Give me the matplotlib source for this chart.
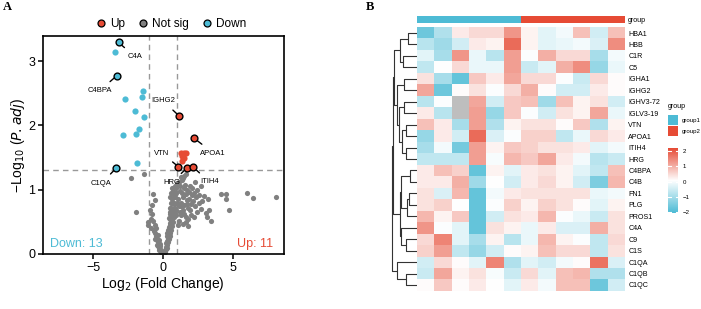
import numpy as np
import matplotlib
matplotlib.use("Agg")
import matplotlib.pyplot as plt
from matplotlib.colors import LinearSegmentedColormap
from matplotlib.lines import Line2D

plt.rcParams['font.family'] = ['Liberation Sans', 'DejaVu Sans']

# ---------------- volcano data ----------------
down_x = [-3.19, -3.45, -3.33, -1.47, -1.54, -2.76, -2.02, -1.40, -1.76, -2.88, -1.95, -1.86, -3.38]
down_y = [3.29, 3.14, 2.77, 2.54, 2.44, 2.41, 2.23, 2.13, 1.95, 1.85, 1.86, 1.41, 1.33]
up_x = [1.12, 2.21, 1.07, 1.71, 2.10, 1.25, 1.45, 1.65, 1.50, 1.35, 1.31]
up_y = [2.15, 1.80, 1.36, 1.34, 1.36, 1.57, 1.57, 1.57, 1.50, 1.52, 1.44]
ns_x = [
    -2.30, -1.34, -1.95, -0.71, -0.83, -0.62, -0.95, -1.10, -1.12, -0.90, -0.78, -0.70,
    -0.60, -0.85, -0.65, -0.55, -0.50, -0.58, -0.45, -0.40, -0.42, -0.35, -0.30, -0.28,
    -0.22, -0.18, -0.15, -0.10, -0.06, -0.50, -0.38, -0.30, -0.25, -0.20,
    0.02, 0.06, 0.10, 0.12, 0.16, 0.20, 0.18, 0.24, 0.28, 0.22, 0.30, 0.35, 0.33, 0.40,
    0.38, 0.45, 0.42, 0.50, 0.48, 0.55, 0.52, 0.58, 0.45, 0.40, 0.35, 0.62, 0.65, 0.60,
    0.55, 0.50, 0.68, 0.72, 0.75, 0.70, 0.62, 0.58, 0.52, 0.46, 0.78, 0.82, 0.80, 0.74,
    0.66, 0.60, 0.55, 0.85, 0.90, 0.78, 0.70, 0.64, 0.88, 0.92, 0.95, 0.45, 0.50, 0.42,
    0.30, 0.25, 0.92, 0.84, 0.95, 0.55,
    1.03, 1.12, 1.17, 1.22, 1.28, 1.31, 1.38, 1.41, 1.47, 1.52, 1.58, 1.61, 1.67, 1.72,
    1.74, 1.83, 1.86, 1.93, 1.97, 2.02, 2.08, 2.12, 2.18, 2.24, 2.33, 2.38, 2.52, 2.57,
    2.72, 2.78, 2.93, 3.05, 1.10, 1.20, 1.30, 1.40, 1.50, 1.60, 1.70, 1.80, 1.90, 2.00,
    2.20, 2.40, 1.15, 1.25, 1.40, 1.60, 1.80, 1.05, 1.25, 1.45, 1.60, 1.35, 2.67, 2.26,
    3.20, 3.26, 3.10, 3.40, 4.10, 4.50, 4.50, 4.70, 5.96, 6.43, 8.05]
ns_y = [
    1.18, 1.24, 0.66, 0.94, 0.76, 0.84, 0.68, 0.50, 0.45, 0.55, 0.62, 0.52,
    0.45, 0.40, 0.36, 0.33, 0.28, 0.24, 0.22, 0.18, 0.14, 0.12, 0.10, 0.06,
    0.08, 0.05, 0.03, 0.02, 0.01, 0.40, 0.30, 0.22, 0.16, 0.13,
    0.01, 0.02, 0.03, 0.05, 0.06, 0.08, 0.11, 0.10, 0.14, 0.17, 0.20, 0.18, 0.25, 0.24,
    0.30, 0.28, 0.35, 0.33, 0.40, 0.38, 0.45, 0.50, 0.48, 0.42, 0.38, 0.44, 0.55, 0.60,
    0.58, 0.55, 0.62, 0.50, 0.58, 0.70, 0.68, 0.72, 0.65, 0.62, 0.66, 0.72, 0.80, 0.78,
    0.80, 0.85, 0.80, 0.88, 0.95, 0.92, 0.98, 1.02, 0.60, 0.68, 0.80, 0.72, 0.88, 0.56,
    0.32, 0.28, 1.02, 1.05, 1.10, 0.95,
    0.85, 1.12, 0.98, 1.05, 0.80, 0.95, 1.18, 0.88, 1.02, 0.76, 1.08, 0.93, 0.84, 1.00,
    0.71, 0.97, 0.86, 1.06, 0.78, 0.91, 1.03, 0.82, 0.95, 0.74, 0.88, 1.00, 0.79, 0.92,
    0.70, 0.83, 0.90, 0.64, 0.75, 0.66, 0.74, 0.69, 0.62, 0.58, 0.77, 0.55, 0.68, 0.60,
    0.57, 0.65, 0.52, 0.61, 0.47, 0.50, 0.44, 0.45, 1.20, 1.22, 1.25, 1.15, 1.05, 1.12,
    0.85, 0.68, 0.58, 0.52, 0.93, 0.93, 0.85, 0.68, 0.95, 0.87, 0.88]

lab_names = ['C4A', 'C4BPA', 'C1QA', 'IGHG2', 'APOA1', 'VTN', 'HRG', 'ITIH4']
lab_x = [-3.19, -3.33, -3.38, 1.12, 2.21, 1.07, 1.71, 2.10]
lab_y = [3.29, 2.77, 1.33, 2.15, 1.80, 1.36, 1.34, 1.36]
lab_col = ['down', 'down', 'down', 'up', 'up', 'up', 'up', 'up']
lab_tx = [-2.02, -4.52, -4.40, 0.00, 3.57, -0.11, 0.60, 3.29]
lab_ty = [3.07, 2.54, 1.10, 2.38, 1.57, 1.57, 1.11, 1.12]

n_down, n_up = 13, 11
x_ticks = [-5, 0, 5]
y_ticks = [0, 1, 2, 3]

# ---------------- heatmap data ----------------
genes = ['HBA1', 'HBB', 'C1R', 'C5', 'IGHA1', 'IGHG2', 'IGHV3-72', 'IGLV3-19', 'VTN',
         'APOA1', 'ITIH4', 'HRG', 'C4BPA', 'C4B', 'FN1', 'PLG', 'PROS1', 'C4A', 'C9',
         'C1S', 'C1QA', 'C1QB', 'C1QC']
groups = ['group1'] * 6 + ['group2'] * 6
nan = np.nan
hm = [
    [-1.7, -0.9, 0.3, 0.5, 0.5, 1.3, 0.2, -0.3, -0.1, 0.8, -0.5, 0.8],
    [-0.8, -1.1, -0.5, 0.3, 0.2, 1.8, 0.2, -0.3, -0.2, -0.1, -0.4, 1.4],
    [-0.3, -1.0, 1.3, -0.2, -0.8, 1.2, 0.0, 1.0, 0.5, 0.5, -1.0, -0.1],
    [-0.7, 0.05, 0.5, -0.2, -0.2, 1.2, -0.6, -0.3, 1.0, 1.4, -1.2, -0.2],
    [0.4, -1.0, -1.8, 0.7, 0.3, 1.1, 0.5, 0.5, 0.0, -0.6, 0.5, 0.1],
    [1.1, -1.7, 0.1, 0.4, 0.0, 0.5, 1.0, 0.1, -0.5, -0.5, 0.3, 0.1],
    [-0.8, 0.0, nan, 1.1, -0.5, 0.7, 0.8, -1.1, 0.8, 0.2, 0.4, -0.5],
    [0.3, -0.8, nan, 1.2, -1.2, 0.7, 0.0, -0.5, 0.4, 0.2, 1.1, -0.2],
    [0.8, 0.3, -1.0, 1.2, -0.9, 0.2, 0.4, 0.4, 0.1, 0.7, -0.9, 0.2],
    [-1.2, 0.3, -0.5, 1.8, -0.4, 0.0, 0.6, 0.6, -0.7, -0.2, 0.5, 0.3],
    [-1.0, -0.1, -1.6, 1.2, 0.2, 0.7, 0.6, 0.4, 0.4, 0.3, -0.3, -0.1],
    [-0.7, -0.7, -0.7, 1.2, -0.05, 0.9, 0.7, 1.1, 0.3, -0.1, -0.8, -0.6],
    [0.3, 0.8, 0.6, -1.8, 0.2, -0.3, 0.3, 0.4, 0.2, -0.3, -0.7, 0.8],
    [0.3, 0.3, 1.0, -1.1, 0.05, -0.5, 0.3, 0.5, 0.2, -0.5, -1.5, 0.9],
    [0.4, -0.4, 0.9, -1.8, -0.1, 0.3, 0.4, 0.4, 0.4, 0.4, -0.2, -0.1],
    [0.4, 0.6, 0.05, -1.8, 0.0, 0.6, 0.2, 0.6, 0.4, 0.1, -0.3, 0.2],
    [0.9, 0.2, 0.7, -1.8, -0.5, 0.4, 0.3, 0.9, 0.0, -0.2, -0.6, 0.4],
    [1.3, 0.0, -0.3, -1.8, 0.4, 0.2, -0.2, 0.3, -0.4, -0.4, 1.0, 0.4],
    [0.5, 1.5, -0.3, -1.0, 0.2, -0.8, -0.2, 0.9, 0.2, 0.0, -0.7, 0.5],
    [0.6, 1.2, -0.7, -1.2, -0.5, 0.1, 0.2, 0.8, 0.5, 0.5, -0.7, 0.4],
    [-0.5, 0.5, 0.1, -0.3, 1.5, -0.9, -0.3, -0.5, -0.1, 0.1, 1.7, -0.4],
    [-0.6, 1.1, 0.2, 0.4, -0.05, -0.6, 0.5, -0.3, 0.8, 0.9, -0.9, -0.9],
    [0.1, 0.7, 0.1, 0.3, 0.05, -0.3, 0.3, -0.1, 0.8, 0.8, -1.7, -0.5],
]
# row dendrogram merges: (child a, child b, height); leaves 0..22, clusters 23+
merges = [
    (0, 1, 0.35), (2, 3, 0.55), (23, 24, 0.67), (4, 5, 0.52), (6, 7, 0.5),
    (8, 9, 0.45), (10, 11, 0.45), (28, 29, 0.6), (30, 27, 0.7), (26, 31, 0.8),
    (25, 32, 0.92), (12, 13, 0.28), (14, 15, 0.3), (35, 16, 0.4), (34, 36, 0.62),
    (18, 19, 0.45), (17, 38, 0.62), (37, 39, 0.66), (33, 40, 0.96),
    (21, 22, 0.45), (20, 42, 0.8), (41, 43, 1.0),
]
cbar_ticks = [2, 1, 0, -1, -2]

BLUE = '#4DBBD5'
RED = '#E64B35'
GREY = '#808080'
W, H = 701, 309

fig = plt.figure(figsize=(W / 100, H / 100), dpi=100)

def rect(x0, y0, x1, y1):
    return [x0 / W, 1 - y1 / H, (x1 - x0) / W, (y1 - y0) / H]

# ---------------- volcano ----------------
ax = fig.add_axes(rect(42.7, 36, 283.7, 254))
ax.scatter(ns_x, ns_y, s=14, color=GREY, linewidths=0, zorder=2)
ax.scatter(down_x, down_y, s=20, color=BLUE, linewidths=0, zorder=3)
ax.scatter(up_x, up_y, s=20, color=RED, linewidths=0, zorder=3)
for nm, x, y, c, tx, ty in zip(lab_names, lab_x, lab_y, lab_col, lab_tx, lab_ty):
    fc = BLUE if c == 'down' else RED
    ax.annotate(nm, xy=(x, y), xytext=(tx, ty), fontsize=5.5, ha='center', va='center',
                arrowprops=dict(arrowstyle='-', color='black', lw=1.0, shrinkA=3, shrinkB=2),
                zorder=5)
    ax.scatter([x], [y], s=24, color=fc, edgecolors='black', linewidths=1.0, zorder=6)
ax.axvline(-1, color='#999999', ls=(0, (4, 3)), lw=1.0, zorder=1)
ax.axvline(1, color='#999999', ls=(0, (4, 3)), lw=1.0, zorder=1)
ax.axhline(-np.log10(0.05), color='#999999', ls=(0, (4, 3)), lw=1.0, zorder=1)
ax.set_xlim(-8.6, 8.6)
ax.set_ylim(-0.0, 3.39)
ax.set_xticks(x_ticks)
ax.set_xticklabels(['\u22125', '0', '5'])
ax.set_yticks(y_ticks)
ax.tick_params(labelsize=9, length=3.5, width=1.1, pad=2)
for s in ax.spines.values():
    s.set_linewidth(1.2)
ax.set_xlabel('Log$_2$ (Fold Change)', fontsize=10, labelpad=1)
ax.set_ylabel('\u2212Log$_{10}$ ($\\it{P.adj}$)', fontsize=10, labelpad=1)
ax.text(0.03, 0.02, f'Down: {n_down}', transform=ax.transAxes, color=BLUE, fontsize=9,
        ha='left', va='bottom')
ax.text(0.955, 0.02, f'Up: {n_up}', transform=ax.transAxes, color=RED, fontsize=9,
        ha='right', va='bottom')
handles = [Line2D([], [], marker='o', ls='', markerfacecolor=c, markeredgecolor='black',
                  markersize=5, markeredgewidth=0.9) for c in (RED, GREY, BLUE)]
ax.legend(handles, ['Up', 'Not sig', 'Down'], loc='center', bbox_to_anchor=(0.53, 1.055),
          ncol=3, frameon=False, fontsize=8.5, handletextpad=0.3, columnspacing=1.0,
          borderaxespad=0, handlelength=1.0)
fig.text(3 / W, 1 - 7 / H, 'A', fontsize=9, fontweight='bold', family='Liberation Serif',
         ha='left', va='center')
fig.text(366 / W, 1 - 7 / H, 'B', fontsize=9, fontweight='bold', family='Liberation Serif',
         ha='left', va='center')

# ---------------- heatmap ----------------
cmap = LinearSegmentedColormap.from_list('bwr2', [BLUE, '#FFFFFF', RED])
cmap.set_bad('#BEBEBE')
data = np.ma.masked_invalid(np.array(hm, dtype=float))
hx0, hx1, hy0, hy1 = 416.7, 624.0, 27.3, 290.7
axh = fig.add_axes(rect(hx0, hy0, hx1, hy1))
axh.imshow(data, cmap=cmap, vmin=-2.1, vmax=2.2, aspect='auto', interpolation='nearest')
axh.set_xticks([])
axh.yaxis.tick_right()
axh.set_yticks(range(len(genes)))
axh.set_yticklabels(genes, fontsize=5.1)
axh.tick_params(axis='y', length=0, pad=3)
for s in axh.spines.values():
    s.set_visible(False)

# group annotation bar
axg = fig.add_axes(rect(hx0, 15.7, hx1, 23.3))
gcodes = np.array([[0 if g == 'group1' else 1 for g in groups]])
axg.imshow(gcodes, cmap=LinearSegmentedColormap.from_list('g', [BLUE, RED], N=2),
           aspect='auto', interpolation='nearest')
axg.set_xticks([])
axg.yaxis.tick_right()
axg.set_yticks([0])
axg.set_yticklabels(['group'], fontsize=5.1)
axg.tick_params(axis='y', length=0, pad=3)
for s in axg.spines.values():
    s.set_visible(False)

# dendrogram
axd = fig.add_axes(rect(390.0, hy0, hx0, hy1))
n = len(genes)
pos = {i: float(i) for i in range(n)}
hgt = {i: 0.0 for i in range(n)}
for k, (a, b, h) in enumerate(merges):
    cid = n + k
    ya, yb = pos[a], pos[b]
    axd.plot([hgt[a], h, h, hgt[b]], [ya, ya, yb, yb], color='#333333', lw=0.8,
             solid_capstyle='butt')
    pos[cid] = (ya + yb) / 2
    hgt[cid] = h
axd.set_ylim(n - 0.5, -0.5)
axd.set_xlim(1.08, 0)
axd.axis('off')

# legend for group
fig.text(668 / W, 1 - 107 / H, 'group', fontsize=5.1, ha='left', va='center')
for i, (g, c) in enumerate(zip(['group1', 'group2'], [BLUE, RED])):
    y0 = 115 + i * 11
    axl = fig.add_axes(rect(668.3, y0, 678.3, y0 + 10))
    axl.set_facecolor(c)
    axl.set_xticks([]); axl.set_yticks([])
    for s in axl.spines.values():
        s.set_visible(False)
    fig.text(682 / W, 1 - (y0 + 5) / H, g, fontsize=4.4, ha='left', va='center')

# colorbar
axc = fig.add_axes(rect(668.3, 148.3, 678.3, 213.3))
grad = np.linspace(2.2, -2.1, 200).reshape(-1, 1)
axc.imshow(grad, cmap=cmap, vmin=-2.1, vmax=2.2, aspect='auto',
           extent=[0, 1, -2.1, 2.2])
axc.set_xlim(0, 1)
axc.set_ylim(-2.1, 2.2)
for t in cbar_ticks:
    axc.plot([0, 0.22], [t, t], color='white', lw=0.8)
    axc.plot([0.78, 1], [t, t], color='white', lw=0.8)
axc.set_xticks([])
axc.yaxis.tick_right()
axc.set_yticks(cbar_ticks)
axc.set_yticklabels([str(t).replace('-', '\u2212') for t in cbar_ticks], fontsize=4.4)
axc.tick_params(axis='y', length=0, pad=3)
for s in axc.spines.values():
    s.set_visible(False)

fig.savefig('out.png', dpi=100)
